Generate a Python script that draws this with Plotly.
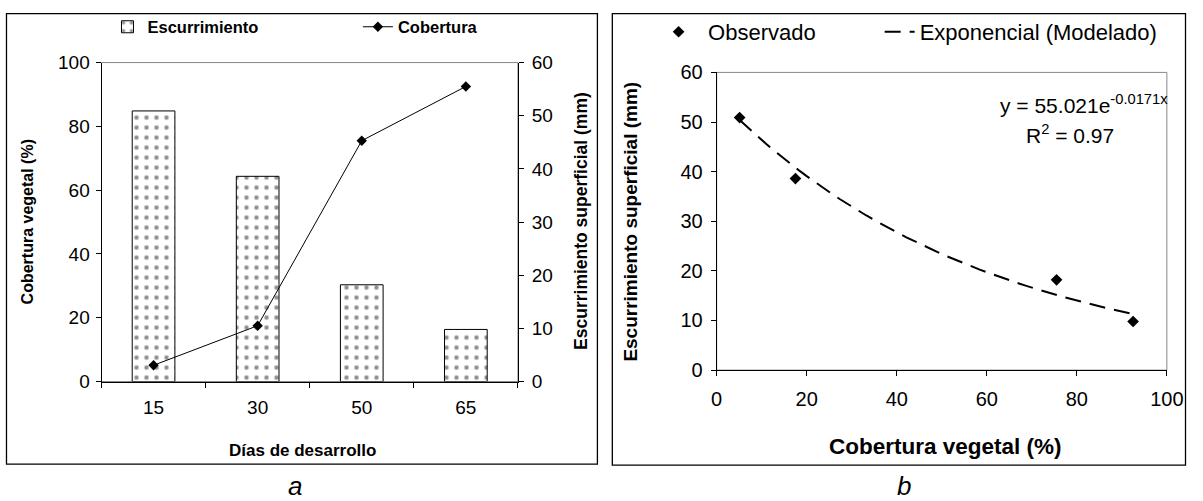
import numpy as np
import plotly.graph_objects as go

W, H = 1203, 501

# Data
dias = ["15", "30", "50", "65"]
escurrimiento = [50.9, 38.6, 18.2, 9.8]     # mm
cobertura = [5.1, 17.5, 75.5, 92.5]         # %
modelo_a = 55.021
modelo_b = -0.0171
r2 = 0.97

# page-to-figure pixel mapping
SX, SY, OFF = 0.987, 0.969, 8.0


def fx(x):
    return min(max(x / SX - OFF, 0.5), W - 0.5)


def fy(y):
    return min(max(y / SY - OFF, 0.5), H - 0.5)


def px(x):
    return fx(x) / W


def py(y):
    return 1 - fy(y) / H


FONT = "Liberation Sans, Arial, sans-serif"

x_fit = np.linspace(min(cobertura), max(cobertura), 60)
y_fit = modelo_a * np.exp(modelo_b * x_fit)

fig = go.Figure()

# Panel a: bars (runoff) and line (vegetation cover)
fig.add_trace(go.Bar(
    x=dias, y=escurrimiento, name="Escurrimiento", xaxis="x", yaxis="y",
    width=0.41,
    marker=dict(color="white", line=dict(color="black", width=1),
                pattern=dict(shape=".", fgcolor="#222", bgcolor="white",
                             size=10, solidity=0.16)),
    legend="legend",
))
fig.add_trace(go.Scatter(
    x=dias, y=cobertura, name="Cobertura", xaxis="x", yaxis="y2",
    mode="lines+markers",
    line=dict(color="black", width=1),
    marker=dict(symbol="diamond", size=8, color="black"),
    legend="legend2",
))

# Panel b: observed points and exponential model
fig.add_trace(go.Scatter(
    x=cobertura, y=escurrimiento, name="Observado", xaxis="x2", yaxis="y3",
    mode="markers",
    marker=dict(symbol="diamond", size=9, color="black"),
    legend="legend3",
))
fig.add_trace(go.Scatter(
    x=x_fit, y=y_fit, name="Exponencial (Modelado)", xaxis="x2", yaxis="y3",
    mode="lines",
    line=dict(color="black", width=2, dash="16px,9px"),
    legend="legend4",
))


def axis_style(size):
    return dict(showline=True, linecolor="black", linewidth=1,
                ticks="outside", ticklen=5, tickcolor="black",
                showgrid=False, zeroline=False,
                tickfont=dict(family=FONT, size=size, color="black"))


# left plot area: x 104..523, y 60..383
# right plot area: x 723..1176, y 70..372
fig.update_layout(
    width=W, height=H,
    margin=dict(l=0, r=0, t=0, b=0),
    paper_bgcolor="white", plot_bgcolor="white",
    barmode="overlay",
    xaxis=dict(axis_style(19), domain=[px(104), px(523)], anchor="y",
               type="category", range=[-0.5, 3.5], tickson="boundaries",
               ticklabelstandoff=9),
    yaxis=dict(axis_style(19), domain=[py(383.3), py(60)], anchor="x",
               side="right", range=[0, 60], dtick=10, ticklabelstandoff=4),
    yaxis2=dict(axis_style(19), overlaying="y", anchor="x", side="left",
                range=[0, 100], dtick=20, ticklabelstandoff=2),
    xaxis2=dict(axis_style(20), domain=[px(723), px(1176)], anchor="y3",
                range=[0, 100], dtick=20, ticklabelstandoff=6),
    yaxis3=dict(axis_style(20), domain=[py(371.7), py(70)], anchor="x2",
                range=[0, 60], dtick=10, ticklabelstandoff=4),
    showlegend=True,
)

leg_base = dict(orientation="h", xanchor="left", yanchor="middle",
                bgcolor="rgba(0,0,0,0)", borderwidth=0, itemwidth=30)
bold_leg = dict(family=FONT, size=16.5, color="black", weight="bold")
plain_leg = dict(family=FONT, size=22, color="black")
fig.update_layout(
    legend=dict(leg_base, x=px(110), y=py(24), font=bold_leg),
    legend2=dict(leg_base, x=px(362), y=py(24), font=bold_leg),
    legend3=dict(leg_base, x=px(655), y=py(29), font=plain_leg, itemwidth=49),
    legend4=dict(leg_base, x=px(887), y=py(29), font=plain_leg),
)

shapes = [
    # panel frames
    dict(type="rect", xref="paper", yref="paper", x0=px(7.5), x1=px(603),
         y0=py(467), y1=py(10.5), line=dict(color="black", width=1.3)),
    dict(type="rect", xref="paper", yref="paper", x0=px(618), x1=px(1199),
         y0=py(468), y1=py(10.5), line=dict(color="black", width=1.3)),
    # plot-area borders
    dict(type="rect", xref="x domain", yref="y domain", x0=0, x1=1, y0=0, y1=1,
         line=dict(color="#888", width=1), layer="below"),
    dict(type="rect", xref="x2 domain", yref="y3 domain", x0=0, x1=1, y0=0, y1=1,
         line=dict(color="#888", width=1), layer="below"),
]
fig.update_layout(shapes=shapes)


def note(text, x, y, size, bold=False, angle=0):
    font = dict(family=FONT, size=size, color="black")
    if bold:
        font["weight"] = "bold"
    fig.add_annotation(text=text, x=px(x), y=py(y), xref="paper", yref="paper",
                       showarrow=False, textangle=angle, font=font,
                       xanchor="center", yanchor="middle")


note("Cobertura vegetal (%)", 29, 221, 16, True, -90)
note("Escurrimiento superficial (mm)", 587, 221, 17.5, True, -90)
note("Días de desarrollo", 306, 453, 17, True)
note("<i>a</i>", 299, 489, 26)

note("Escurrimiento superficial (mm)", 636, 221, 19, True, -90)
note("Cobertura vegetal (%)", 953, 449, 22.5, True)
note("<i>b</i>", 911, 489, 26)

note("y = %.3fe<sup>%.4fx</sup>" % (modelo_a, modelo_b), 1093, 102, 21)
note("R<sup>2</sup> = %.2f" % r2, 1079, 132, 21)

fig.write_html(
    "out.html",
    post_script="document.body.style.margin='0';"
                "document.body.style.overflow='hidden';",
)
